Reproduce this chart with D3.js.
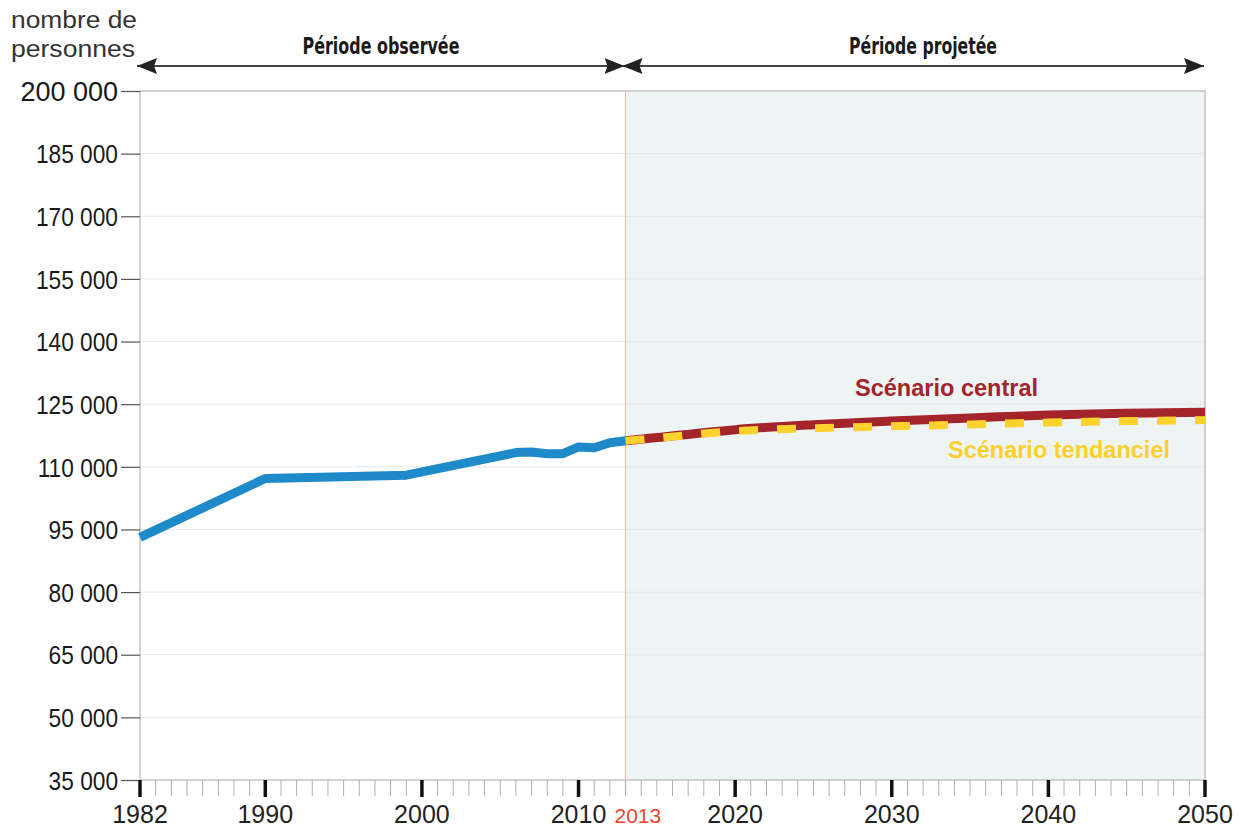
<!DOCTYPE html>
<html>
<head>
<meta charset="utf-8">
<script src="https://cdn.jsdelivr.net/npm/d3@7"></script>
<style>
  body { margin: 0; background: #fff; }
  svg { display: block; font-family: "Liberation Sans", Arial, sans-serif; }
</style>
</head>
<body>
<svg id="chart" width="1244" height="827"></svg>
<script>
// observed population
var obsYears = [1982, 1990, 1999, 2006, 2007, 2008, 2009, 2010, 2011, 2012, 2013];
var obsValues = [93100, 107200, 108000, 113400, 113550, 113150, 113150, 114750, 114550, 115750, 116230];

// projections
var projYears = [2013, 2015, 2020, 2025, 2030, 2035, 2040, 2045, 2050];
var centralValues = [116230, 117000, 118900, 120100, 121000, 121700, 122400, 122800, 123100];
var tendancielValues = [116230, 116900, 118550, 119250, 119700, 120150, 120600, 120950, 121200];

var yTicks = [35000, 50000, 65000, 80000, 95000, 110000, 125000, 140000, 155000, 170000, 185000, 200000];
var xMajor = [1982, 1990, 2000, 2010, 2020, 2030, 2040, 2050];
var splitYear = 2013;

var margin = {top: 91, left: 140, right: 39, bottom: 47};
var W = 1244, H = 827;
var svg = d3.select("#chart");

var x = d3.scaleLinear().domain([1982, 2050]).range([margin.left, W - margin.right]);
var y = d3.scaleLinear().domain([35000, 200000]).range([H - margin.bottom, margin.top]);

var fr = d3.formatLocale({decimal: ",", thousands: " ", grouping: [3], currency: ["", " €"]});
var fmt = fr.format(",");

// projected period background
svg.append("rect")
  .attr("x", x(splitYear)).attr("y", y(200000))
  .attr("width", x(2050) - x(splitYear)).attr("height", y(35000) - y(200000))
  .attr("fill", "#eef3f3");

// grid
svg.append("g").selectAll("line")
  .data(yTicks.slice(1, -1))
  .join("line")
    .attr("x1", x(1982)).attr("x2", x(2050))
    .attr("y1", d => y(d)).attr("y2", d => y(d))
    .attr("stroke", "#e2ebea").attr("stroke-width", 1);

// frame
svg.append("rect")
  .attr("x", x(1982)).attr("y", y(200000))
  .attr("width", x(2050) - x(1982)).attr("height", y(35000) - y(200000))
  .attr("fill", "none").attr("stroke", "#b4b8b8").attr("stroke-width", 1.2);

// 2013 separator
svg.append("line")
  .attr("x1", x(splitYear)).attr("x2", x(splitYear))
  .attr("y1", y(200000)).attr("y2", y(35000) + 16)
  .attr("stroke", "#f6b9a6").attr("stroke-width", 1.2);

// y axis
var yAxis = d3.axisLeft(y).tickValues(yTicks).tickFormat(fmt).tickSize(19).tickPadding(3);
var gy = svg.append("g").attr("transform", `translate(${x(1982)},0)`).call(yAxis);
gy.select(".domain").remove();
gy.selectAll(".tick line").attr("stroke", "#555").attr("stroke-width", 1.2);
gy.selectAll(".tick text")
  .attr("fill", "#1a1a1a")
  .style("font-size", d => d === 200000 ? "27px" : "25.5px")
  .attr("dy", "0.36em")
  .each(function(d) {
    if (d === 200000) return;
    var w = this.getComputedTextLength();
    d3.select(this).attr("textLength", w * 0.89).attr("lengthAdjust", "spacingAndGlyphs");
  });

// x axis: minor (every year) and major ticks
var allYears = d3.range(1982, 2051);
var gx = svg.append("g");
gx.selectAll("line.minor")
  .data(allYears.filter(d => xMajor.indexOf(d) < 0))
  .join("line")
    .attr("class", "minor")
    .attr("x1", d => x(d)).attr("x2", d => x(d))
    .attr("y1", y(35000)).attr("y2", y(35000) + 16)
    .attr("stroke", "#b0b0b0").attr("stroke-width", 1);
gx.selectAll("line.major")
  .data(xMajor)
  .join("line")
    .attr("class", "major")
    .attr("x1", d => x(d)).attr("x2", d => x(d))
    .attr("y1", y(35000)).attr("y2", y(35000) + 17)
    .attr("stroke", "#111").attr("stroke-width", 3.5);
gx.selectAll("text.major")
  .data(xMajor)
  .join("text")
    .attr("class", "major")
    .attr("x", d => x(d)).attr("y", 823)
    .attr("text-anchor", "middle")
    .attr("fill", "#222")
    .style("font-size", "25px")
    .text(d => d);
gx.append("text")
  .attr("x", x(splitYear) - 11).attr("y", 823)
  .attr("fill", "#e8452a")
  .style("font-size", "21px")
  .text(splitYear);

// lines
var lineLin = d3.line().x(d => x(d[0])).y(d => y(d[1]));
var lineSmooth = d3.line().x(d => x(d[0])).y(d => y(d[1])).curve(d3.curveMonotoneX);

svg.append("path")
  .datum(d3.zip(obsYears, obsValues))
  .attr("d", lineLin)
  .attr("fill", "none").attr("stroke", "#1f8aca").attr("stroke-width", 9)
  .attr("stroke-linejoin", "round");

svg.append("path")
  .datum(d3.zip(projYears, centralValues))
  .attr("d", lineSmooth)
  .attr("fill", "none").attr("stroke", "#a3242b").attr("stroke-width", 9);

svg.append("path")
  .datum(d3.zip(projYears, tendancielValues))
  .attr("d", lineSmooth)
  .attr("fill", "none").attr("stroke", "#fdd22c").attr("stroke-width", 8)
  .attr("stroke-dasharray", "19 19");

// scenario labels
svg.append("text")
  .attr("x", 855).attr("y", 396)
  .attr("fill", "#a3242b").style("font-size", "23px").style("font-weight", "bold")
  .attr("textLength", 183).attr("lengthAdjust", "spacingAndGlyphs")
  .text("Scénario central");
svg.append("text")
  .attr("x", 948).attr("y", 458)
  .attr("fill", "#fcd02a").style("font-size", "23px").style("font-weight", "bold")
  .attr("textLength", 222).attr("lengthAdjust", "spacingAndGlyphs")
  .text("Scénario tendanciel");

// y title
svg.append("text").attr("x", 11).attr("y", 28)
  .attr("fill", "#333").style("font-size", "23px")
  .attr("textLength", 126).attr("lengthAdjust", "spacingAndGlyphs")
  .text("nombre de");
svg.append("text").attr("x", 11).attr("y", 57)
  .attr("fill", "#333").style("font-size", "23px")
  .attr("textLength", 124).attr("lengthAdjust", "spacingAndGlyphs")
  .text("personnes");

// period arrows
var defs = svg.append("defs");
defs.append("marker")
  .attr("id", "arr").attr("viewBox", "0 0 20 16")
  .attr("refX", 20).attr("refY", 8)
  .attr("markerWidth", 10).attr("markerHeight", 8)
  .attr("markerUnits", "strokeWidth")
  .attr("orient", "auto-start-reverse")
  .append("path").attr("d", "M0,0 L20,8 L0,16 L3,8 Z").attr("fill", "#222");

var periods = [
  {label: "Période observée", from: 1982, to: splitYear, cx: 381, w: 157},
  {label: "Période projetée", from: splitYear, to: 2050, cx: 923, w: 148}
];
periods.forEach(p => {
  svg.append("line")
    .attr("x1", x(p.from) - 3).attr("x2", x(p.to) - 1)
    .attr("y1", 66).attr("y2", 66)
    .attr("stroke", "#444").attr("stroke-width", 2)
    .attr("marker-start", "url(#arr)").attr("marker-end", "url(#arr)");
  svg.append("text")
    .attr("x", p.cx).attr("y", 54)
    .attr("text-anchor", "middle")
    .attr("fill", "#1a1a1a")
    .style("font-family", "'DejaVu Sans Condensed', 'DejaVu Sans', sans-serif")
    .style("font-size", "23px").style("font-weight", "900")
    .attr("textLength", p.w)
    .attr("lengthAdjust", "spacingAndGlyphs")
    .text(p.label);
});
</script>
</body>
</html>
